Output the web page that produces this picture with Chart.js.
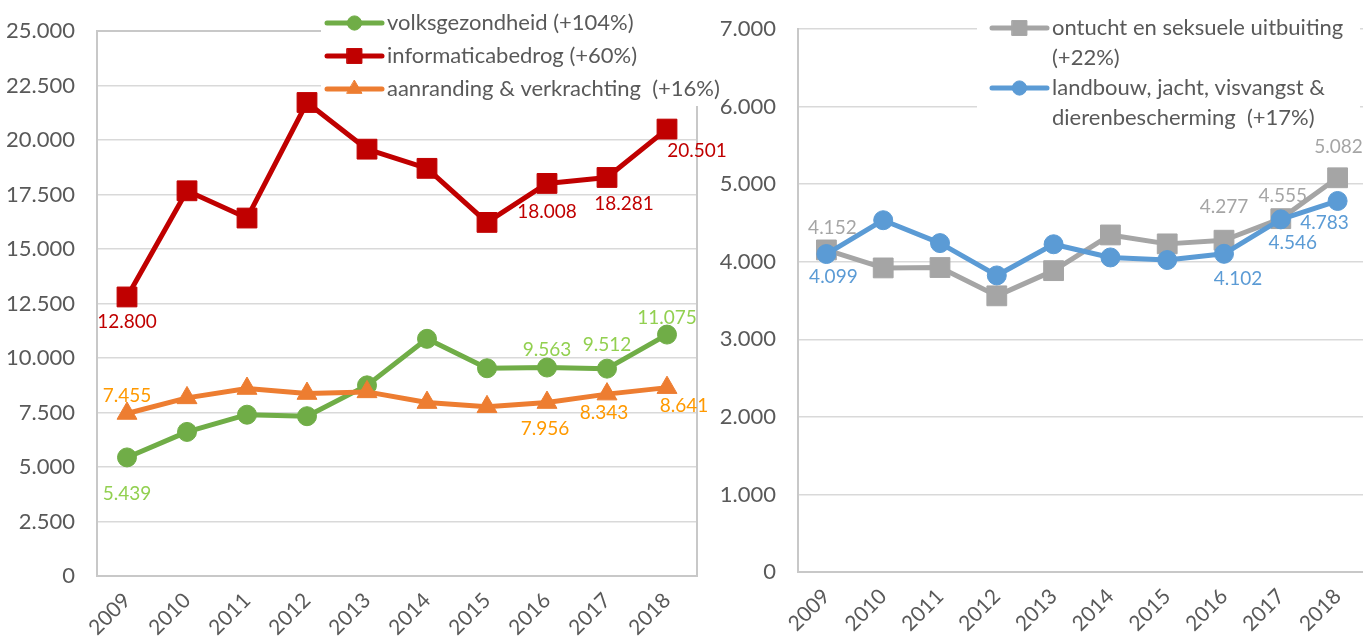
<!DOCTYPE html>
<html>
<head>
<meta charset="utf-8">
<script src="https://cdn.jsdelivr.net/npm/chart.js@4.4.0/dist/chart.umd.min.js"></script>
<style>
  html, body { margin: 0; padding: 0; overflow: hidden; background: #fff; width: 1363px; height: 642px; }
  #left { position: absolute; left: 0; top: 0; }
  #right { position: absolute; left: 700px; top: 0; }
</style>
</head>
<body>
<canvas id="left" width="740" height="642"></canvas>
<canvas id="right" width="680" height="642"></canvas>
<script>
// ---- data ----
const years = ["2009", "2010", "2011", "2012", "2013", "2014", "2015", "2016", "2017", "2018"];

const volksgezondheid   = [5439, 6610, 7400, 7330, 8745, 10880, 9530, 9563, 9512, 11075];
const informaticabedrog = [12800, 17670, 16420, 21720, 19580, 18700, 16220, 18008, 18281, 20501];
const aanranding        = [7455, 8170, 8600, 8370, 8445, 7955, 7760, 7956, 8343, 8641];

const ontucht  = [4152, 3920, 3925, 3560, 3885, 4345, 4230, 4277, 4555, 5082];
const landbouw = [4099, 4535, 4240, 3823, 4225, 4055, 4022, 4102, 4546, 4783];

const leftLegend = [
  ["volksgezondheid (+104%)"],
  ["informaticabedrog (+60%)"],
  ["aanranding & verkrachting  (+16%)"]
];
const rightLegend = [
  ["ontucht en seksuele uitbuiting", "(+22%)"],
  ["landbouw, jacht, visvangst &", "dierenbescherming  (+17%)"]
];

// which points carry a value label, and where the label sits relative to the point
const leftLabelSpots = [
  { ds: 1, i: 0, dx: 0, dy: 25 }, { ds: 1, i: 7, dx: 0, dy: 28 },
  { ds: 1, i: 8, dx: 17, dy: 26 }, { ds: 1, i: 9, dx: 30, dy: 22 },
  { ds: 0, i: 0, dx: 0, dy: 36 }, { ds: 0, i: 7, dx: 0, dy: -18 },
  { ds: 0, i: 8, dx: 0, dy: -24 }, { ds: 0, i: 9, dx: 0, dy: -17 },
  { ds: 2, i: 0, dx: 0, dy: -18 }, { ds: 2, i: 7, dx: -2, dy: 26 },
  { ds: 2, i: 8, dx: -3, dy: 19 }, { ds: 2, i: 9, dx: 17, dy: 18 }
];
const rightLabelSpots = [
  { ds: 0, i: 0, dx: 6, dy: -22 }, { ds: 0, i: 7, dx: 0, dy: -33 },
  { ds: 0, i: 8, dx: 2, dy: -23 }, { ds: 0, i: 9, dx: 1, dy: -31 },
  { ds: 1, i: 0, dx: 7, dy: 23 }, { ds: 1, i: 7, dx: 14, dy: 25 },
  { ds: 1, i: 8, dx: 12, dy: 24 }, { ds: 1, i: 9, dx: -13, dy: 22 }
];

const FONT = "Lato";
const fmt = v => String(v).replace(/\B(?=(\d{3})+(?!\d))/g, ".");

function series(label, data, color, labelColor, style, radius, order) {
  return {
    label, data, order,
    borderColor: color, backgroundColor: color,
    pointBackgroundColor: color, pointBorderColor: color,
    pointStyle: style, pointRadius: radius, pointHoverRadius: radius, pointBorderWidth: 1,
    borderWidth: 5, borderJoinStyle: "round", borderCapStyle: "round",
    tension: 0, fill: false, labelColor
  };
}

// value labels on selected points
const valueLabels = {
  id: "valueLabels",
  afterDatasetsDraw(chart, args, opts) {
    const ctx = chart.ctx;
    ctx.save();
    ctx.font = "19px " + FONT;
    ctx.textAlign = "center";
    ctx.textBaseline = "middle";
    opts.spots.forEach(s => {
      const ds = chart.data.datasets[s.ds];
      const pt = chart.getDatasetMeta(s.ds).data[s.i];
      ctx.fillStyle = ds.labelColor;
      ctx.fillText(fmt(ds.data[s.i]), pt.x + s.dx, pt.y + s.dy);
    });
    ctx.restore();
  }
};

// plot-area frame (left chart only)
const frame = {
  id: "frame",
  beforeDatasetsDraw(chart, args, opts) {
    if (!opts.show) return;
    const a = chart.chartArea, ctx = chart.ctx;
    ctx.save();
    ctx.strokeStyle = "#C8C8C8";
    ctx.lineWidth = 2;
    ctx.strokeRect(a.left, a.top, a.right - a.left, a.bottom - a.top);
    ctx.restore();
  }
};

// legend drawn over the top-right of the plot on a white box
const boxLegend = {
  id: "boxLegend",
  afterDraw(chart, args, o) {
    const ctx = chart.ctx;
    ctx.save();
    ctx.fillStyle = "#fff";
    ctx.fillRect(o.box[0], o.box[1], o.box[2], o.box[3]);
    ctx.font = o.fontSize + "px " + FONT;
    ctx.textBaseline = "middle";
    ctx.textAlign = "left";
    let y = o.y0;
    o.items.forEach((lines, k) => {
      const ds = chart.data.datasets[k];
      ctx.strokeStyle = ds.borderColor;
      ctx.lineWidth = 5;
      ctx.lineCap = "round";
      ctx.beginPath();
      ctx.moveTo(o.x0, y);
      ctx.lineTo(o.x0 + o.lineLen, y);
      ctx.stroke();
      ctx.fillStyle = ds.borderColor;
      ctx.strokeStyle = ds.borderColor;
      ctx.lineWidth = 1;
      Chart.helpers.drawPoint(ctx, { pointStyle: ds.pointStyle, radius: ds.pointRadius * 0.75, borderWidth: 1 }, o.x0 + o.lineLen / 2, y);
      ctx.fillStyle = "#595959";
      lines.forEach((t, j) => ctx.fillText(t, o.x0 + o.lineLen + 5, y + j * o.lineGap));
      y += lines.length * o.lineGap + o.itemGap;
    });
    ctx.restore();
  }
};

function axes(max, step, yWidth, xHeight) {
  return {
    x: {
      offset: true,
      grid: { display: false },
      border: { display: true, color: "#C8C8C8", width: 2 },
      ticks: {
        color: "#595959", font: { family: FONT, size: 21 },
        minRotation: 45, maxRotation: 45, autoSkip: false, padding: 4
      },
      afterFit: s => { s.height = xHeight; }
    },
    y: {
      min: 0, max,
      grid: { color: "#D9D9D9", lineWidth: 1.5, drawTicks: false },
      border: { display: true, color: "#C8C8C8", width: 2 },
      ticks: {
        stepSize: step, color: "#595959", font: { family: FONT, size: 22 },
        padding: 22, callback: v => fmt(v)
      },
      afterFit: s => { s.width = yWidth; s.paddingTop = 0; s.paddingBottom = 0; }
    }
  };
}

const common = {
  responsive: false,
  animation: false,
  events: [],
  plugins: { legend: { display: false }, tooltip: { enabled: false } }
};

new Chart(document.getElementById("left"), {
  type: "line",
  data: {
    labels: years,
    datasets: [
      series(leftLegend[0][0], volksgezondheid, "#70AD47", "#92D050", "circle", 9.5, 2),
      series(leftLegend[1][0], informaticabedrog, "#C00000", "#C00000", "rect", 14, 1),
      series(leftLegend[2][0], aanranding, "#ED7D31", "#FF9900", "triangle", 11.5, 0)
    ]
  },
  options: {
    ...common,
    layout: { autoPadding: false, padding: { top: 31, right: 43, left: 0, bottom: 0 } },
    scales: axes(25000, 2500, 97, 66),
    plugins: {
      ...common.plugins,
      frame: { show: true },
      valueLabels: { spots: leftLabelSpots },
      boxLegend: {
        items: leftLegend, box: [321, 0, 419, 106],
        x0: 327, lineLen: 55, y0: 23, lineGap: 33, itemGap: 0, fontSize: 22
      }
    }
  },
  plugins: [frame, valueLabels, boxLegend]
});

new Chart(document.getElementById("right"), {
  type: "line",
  data: {
    labels: years,
    datasets: [
      series("ontucht en seksuele uitbuiting (+22%)", ontucht, "#A5A5A5", "#A5A5A5", "rect", 14, 1),
      series("landbouw, jacht, visvangst & dierenbescherming  (+17%)", landbouw, "#5B9BD5", "#5B9BD5", "circle", 9.5, 0)
    ]
  },
  options: {
    ...common,
    layout: { autoPadding: false, padding: { top: 29, right: 14, left: 0, bottom: 0 } },
    scales: axes(7000, 1000, 98, 70),
    plugins: {
      ...common.plugins,
      frame: { show: false },
      valueLabels: { spots: rightLabelSpots },
      boxLegend: {
        items: rightLegend, box: [277, 0, 383, 132],
        x0: 292, lineLen: 55, y0: 28, lineGap: 29.5, itemGap: 1, fontSize: 22
      }
    }
  },
  plugins: [frame, valueLabels, boxLegend]
});
</script>
</body>
</html>
